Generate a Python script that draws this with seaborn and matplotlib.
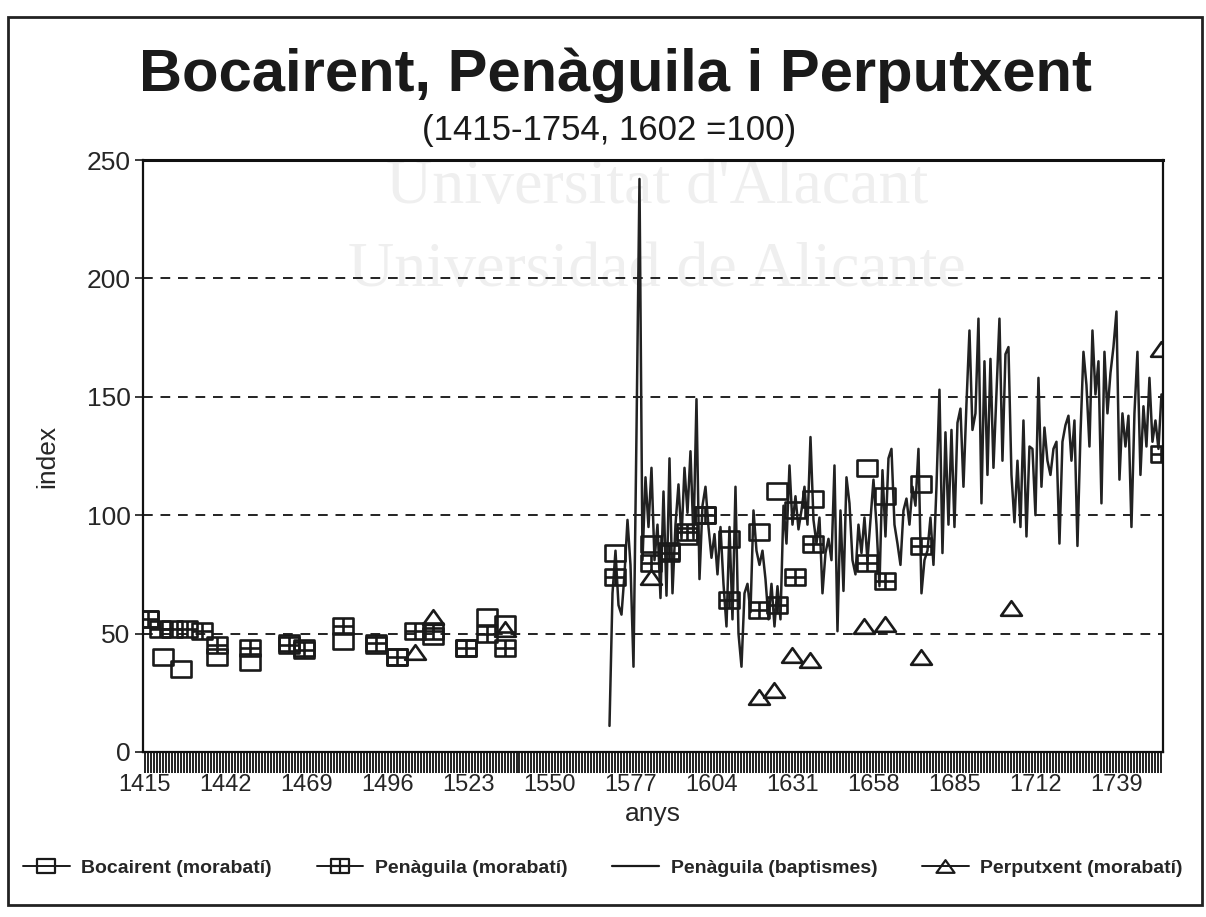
import pandas as pd
import matplotlib
matplotlib.use('Agg')
import matplotlib.pyplot as plt
from matplotlib.path import Path
from matplotlib.lines import Line2D
from matplotlib.patches import Rectangle
import seaborn as sns

# Penàguila baptisms, one value per year 1570-1754
bapt_years = list(range(1570, 1755))
bapt_vals = [
    11, 67, 85, 62, 58, 75, 98, 79, 36, 135,
    242, 81, 116, 95, 120, 81, 96, 65, 110, 66,
    124, 67, 96, 113, 90, 120, 101, 127, 90, 149,
    73, 104, 112, 95, 82, 92, 75, 95, 71, 53,
    95, 56, 112, 50, 36, 67, 71, 59, 102, 85,
    79, 85, 73, 56, 71, 53, 70, 56, 104, 88,
    121, 96, 108, 94, 102, 112, 96, 133, 98, 88,
    99, 67, 84, 90, 81, 121, 51, 102, 68, 116,
    105, 81, 75, 96, 84, 99, 81, 98, 115, 96,
    70, 119, 91, 124, 128, 96, 88, 79, 102, 107,
    96, 112, 104, 128, 67, 81, 85, 99, 79, 112,
    153, 84, 135, 96, 136, 95, 139, 145, 112, 147,
    178, 136, 143, 183, 105, 165, 117, 166, 120, 151,
    183, 123, 168, 171, 117, 97, 123, 95, 140, 91,
    129, 128, 100, 158, 112, 137, 123, 117, 128, 131,
    88, 131, 138, 142, 123, 140, 87, 134, 169, 155,
    129, 178, 151, 165, 105, 169, 143, 160, 171, 186,
    115, 143, 129, 142, 95, 143, 169, 117, 146, 129,
    158, 131, 140, 128, 151,
]

boc_years = [1416, 1421, 1427, 1439, 1450, 1463, 1468, 1481, 1492, 1499,
             1511, 1522, 1529, 1535, 1572, 1584, 1590, 1596, 1602, 1610,
             1620, 1626, 1632, 1638, 1656, 1662, 1674]
boc_vals = [56, 40, 35, 40, 38, 46, 44, 47, 45, 40,
            49, 44, 57, 54, 84, 88, 85, 91, 100, 90,
            93, 110, 102, 107, 120, 108, 113]

pen_years = [1416, 1420, 1424, 1429, 1434, 1439, 1450, 1463, 1468, 1481,
             1492, 1499, 1505, 1511, 1522, 1529, 1535, 1572, 1584, 1590,
             1596, 1602, 1610, 1620, 1626, 1632, 1638, 1656, 1662, 1674, 1754]
pen_vals = [56, 52, 52, 52, 51, 45, 44, 45, 43, 53,
            46, 40, 51, 51, 44, 50, 44, 74, 80, 84,
            93, 100, 64, 60, 62, 74, 88, 80, 72, 87, 126]

perp_years = [1505, 1511, 1535, 1584, 1620, 1625, 1631, 1637, 1655, 1662,
              1674, 1704, 1754]
perp_vals = [42, 57, 52, 74, 23, 26, 41, 39, 53, 54, 40, 61, 170]

tick_years = list(range(1415, 1755, 27))
legend_labels = ['Bocairent (morabatí)', 'Penàguila (morabatí)',
                 'Penàguila (baptismes)', 'Perputxent (morabatí)']

bapt = pd.DataFrame({'any': bapt_years, 'index': bapt_vals})
boc = pd.DataFrame({'any': boc_years, 'index': boc_vals})
pen = pd.DataFrame({'any': pen_years, 'index': pen_vals})
perp = pd.DataFrame({'any': perp_years, 'index': perp_vals})

# marker shapes like the old spreadsheet chart
M, L, C = Path.MOVETO, Path.LINETO, Path.CLOSEPOLY
box = Path([(-1, -0.75), (1, -0.75), (1, 0.75), (-1, 0.75), (-1, -0.75)],
           [M, L, L, L, C])
gridbox = Path([(-1, -0.8), (1, -0.8), (1, 0.8), (-1, 0.8), (-1, -0.8),
                (0, -0.8), (0, 0.8), (-1, 0), (1, 0)],
               [M, L, L, L, C, M, L, M, L])
tri = Path([(-1, -0.7), (1, -0.7), (0, 0.7), (-1, -0.7)], [M, L, L, C])

sns.set_theme(style='white')
plt.rcParams['font.family'] = ['Liberation Sans', 'DejaVu Sans']

fig = plt.figure(figsize=(12.06, 9.17), dpi=100)
ax = fig.add_axes([0.1186, 0.18, 0.8457, 0.6455])
ax.patch.set_visible(False)

# faint scan watermark
fig.text(0.545, 0.795, "Universitat d'Alacant", ha='center', va='center',
         fontsize=46, family='Liberation Serif', color='#efefef', zorder=-5)
fig.text(0.545, 0.705, 'Universidad de Alicante', ha='center', va='center',
         fontsize=46, family='Liberation Serif', color='#efefef', zorder=-5)

sns.lineplot(data=bapt, x='any', y='index', ax=ax, color='#222222', lw=1.8)
mk = dict(linestyle='none', markerfacecolor='none', markeredgecolor='#1a1a1a',
          markeredgewidth=1.9, color='#1a1a1a')
sns.lineplot(data=boc, x='any', y='index', ax=ax, marker=box, markersize=15, **mk)
sns.lineplot(data=pen, x='any', y='index', ax=ax, marker=gridbox, markersize=15, **mk)
sns.lineplot(data=perp, x='any', y='index', ax=ax, marker=tri, markersize=15, **mk)

ax.set_xlim(1414.5, 1754.5)
ax.set_ylim(0, 250)
ax.set_yticks([0, 50, 100, 150, 200, 250])
ax.set_xticks(tick_years)
ax.set_xticklabels([str(y) for y in tick_years])
ax.set_xticks(range(1415, 1755), minor=True)
ax.yaxis.grid(True, linestyle=(0, (5, 4)), color='#222222', lw=1.4)
ax.xaxis.grid(False)
ax.tick_params(axis='x', which='both', direction='out', length=15, width=1.4,
               color='#222222', pad=1, labelsize=17, bottom=True)
ax.tick_params(axis='y', direction='out', length=6, width=1.2, color='k',
               labelsize=19, pad=3, left=True)
for s in ax.spines.values():
    s.set_color('#111111')
    s.set_linewidth(1.6)
ax.spines['top'].set_linewidth(2.2)

ax.set_xlabel('anys', fontsize=19, labelpad=4)
ax.set_ylabel('index', fontsize=19, labelpad=20)

fig.text(0.51, 0.918, 'Bocairent, Penàguila i Perputxent', ha='center',
         va='center', fontsize=43, fontweight='bold', color='#1a1a1a')
fig.text(0.505, 0.858, '(1415-1754, 1602 =100)', ha='center', va='center',
         fontsize=25, color='#1a1a1a')

handles = [
    Line2D([], [], color='k', lw=1.4, marker=box, markersize=13,
           markerfacecolor='none', markeredgewidth=1.6),
    Line2D([], [], color='k', lw=1.4, marker=gridbox, markersize=13,
           markerfacecolor='none', markeredgewidth=1.6),
    Line2D([], [], color='k', lw=1.6),
    Line2D([], [], color='k', lw=1.4, marker=tri, markersize=13,
           markerfacecolor='none', markeredgewidth=1.6),
]
fig.legend(handles, legend_labels, loc='center', bbox_to_anchor=(0.5, 0.053),
           ncol=4, frameon=False, prop={'weight': 'bold', 'size': 14},
           handlelength=2.4, columnspacing=2.3, handletextpad=0.6)

fig.add_artist(Rectangle((0.007, 0.013), 0.99, 0.968, transform=fig.transFigure,
                         fill=False, lw=2, edgecolor='#222222'))

fig.savefig('out.png', dpi=100)
